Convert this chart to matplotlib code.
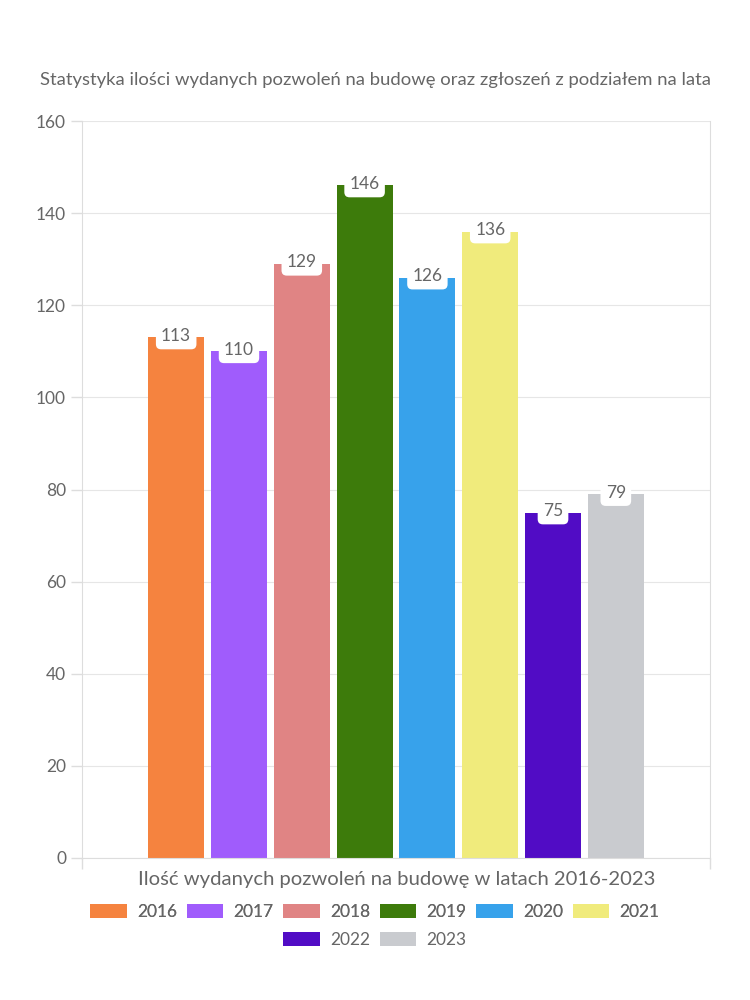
import matplotlib.pyplot as plt
from matplotlib.patches import Patch

years = ["2016", "2017", "2018", "2019", "2020", "2021", "2022", "2023"]
values = [113, 110, 129, 146, 126, 136, 75, 79]
colors = ["#f5833f", "#a05cfc", "#e08484", "#3d7b0b", "#37a2eb", "#f0eb7c", "#510cc5", "#c9cbcf"]

plt.rcParams["font.family"] = ["Lato", "DejaVu Sans"]
text_color = "#666666"

fig = plt.figure(figsize=(7.5, 10), dpi=100)
ax = fig.add_axes([0.1093, 0.142, 0.8374, 0.737])

x = list(range(len(years)))
bars = ax.bar(x, values, width=0.89, color=colors, zorder=2)

for xi, v in zip(x, values):
    ax.annotate(str(v), (xi, v), xytext=(0, 1), textcoords="offset points",
                ha="center", va="center", fontsize=12.5, color=text_color, zorder=3,
                bbox=dict(boxstyle="round,pad=0.3,rounding_size=0.3", fc="white", ec="none"))

ax.set_xlim(-1.5, 8.5)
ax.set_ylim(0, 160)
ax.set_yticks(range(0, 161, 20))
ax.set_xticks([-1.5, 8.5])
ax.set_xticklabels([])
ax.tick_params(axis="y", colors="#dddddd", labelcolor=text_color, labelsize=12.5, length=8, width=1)
ax.tick_params(axis="x", colors="#dddddd", length=8, width=1)
ax.grid(axis="y", color="#e6e6e6", linewidth=0.8, zorder=0)
for side in ["left", "right", "bottom", "top"]:
    ax.spines[side].set_color("#dddddd")
ax.spines["top"].set_visible(False)

fig.text(0.5, 0.92, "Statystyka ilości wydanych pozwoleń na budowę oraz zgłoszeń z podziałem na lata",
         ha="center", va="center", fontsize=13.3, color=text_color)
fig.text(0.529, 0.12, "Ilość wydanych pozwoleń na budowę w latach 2016-2023",
         ha="center", va="center", fontsize=14.6, color=text_color)

handles = [Patch(facecolor=c, label=y) for c, y in zip(colors, years)]
leg_kw = dict(frameon=False, fontsize=12.5, labelcolor=text_color,
              handlelength=2.1, handleheight=0.85, handletextpad=0.6, columnspacing=0.55)
leg1 = fig.legend(handles=handles[:6], loc="center", bbox_to_anchor=(0.5, 0.088), ncol=6, **leg_kw)
fig.legend(handles=handles[6:], loc="center", bbox_to_anchor=(0.5, 0.06), ncol=2, **leg_kw)
fig.add_artist(leg1)

fig.savefig("out.png", dpi=100, facecolor="white")
